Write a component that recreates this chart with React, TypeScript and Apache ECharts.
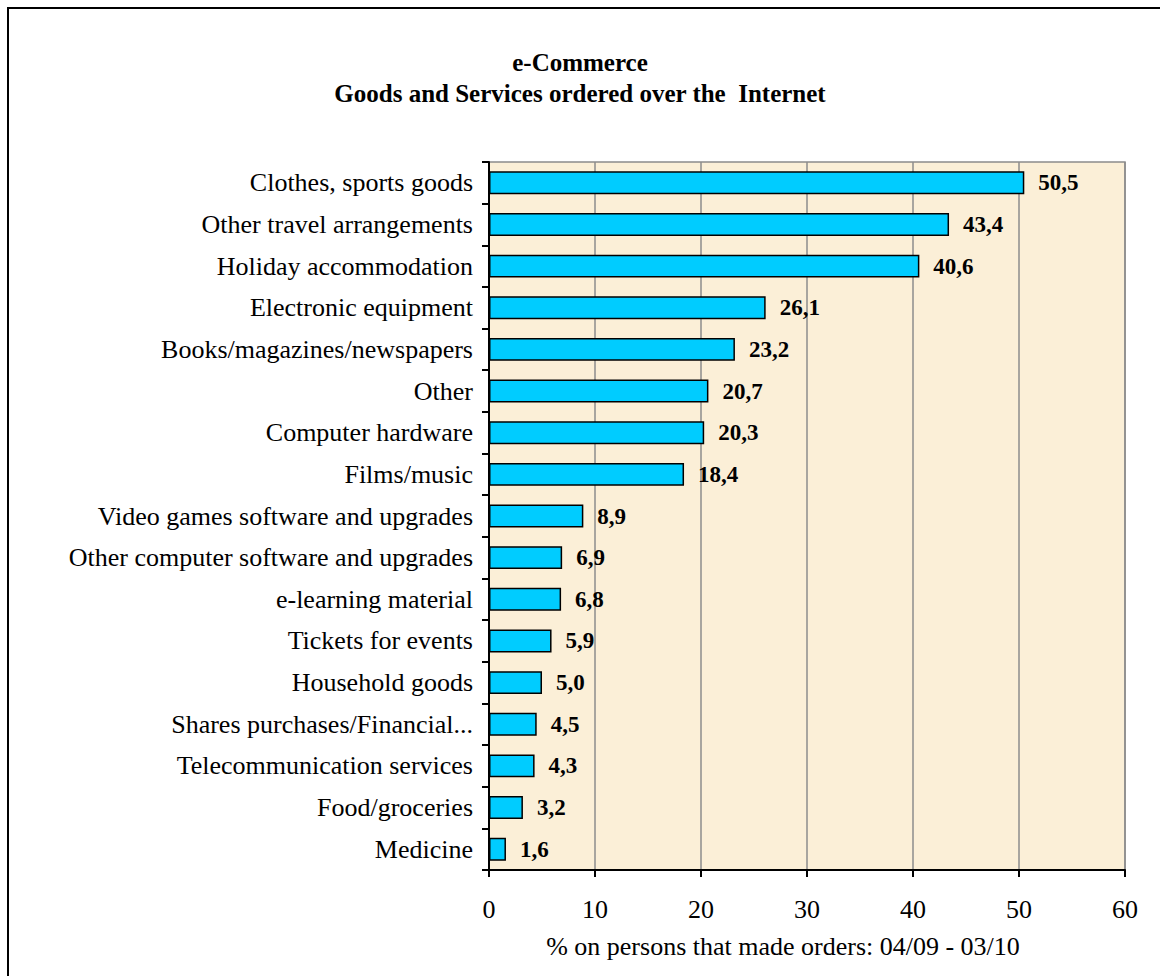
import React, { useEffect, useRef } from "react";
import * as echarts from "echarts";

const categories: string[] = [
  "Clothes, sports goods",
  "Other travel arrangements",
  "Holiday accommodation",
  "Electronic equipment",
  "Books/magazines/newspapers",
  "Other",
  "Computer hardware",
  "Films/music",
  "Video games software and upgrades",
  "Other computer software and upgrades",
  "e-learning material",
  "Tickets for events",
  "Household goods",
  "Shares purchases/Financial...",
  "Telecommunication services",
  "Food/groceries",
  "Medicine",
];

const values: number[] = [
  50.5, 43.4, 40.6, 26.1, 23.2, 20.7, 20.3, 18.4, 8.9, 6.9, 6.8, 5.9, 5.0, 4.5, 4.3, 3.2, 1.6,
];

const titleLines: string[] = ["e-Commerce", "Goods and Services ordered over the  Internet"];
const xAxisTitle = "% on persons that made orders: 04/09 - 03/10";

const FONT = '"Liberation Serif", "Times New Roman", serif';

export default function App() {
  const ref = useRef<HTMLDivElement>(null);

  useEffect(() => {
    if (!ref.current) return;
    const chart = echarts.init(ref.current, undefined, { renderer: "svg" });
    chart.setOption({
      animation: false,
      backgroundColor: "#ffffff",
      title: {
        text: titleLines.join("\n"),
        left: "center",
        top: 42,
        textStyle: {
          fontFamily: FONT,
          fontWeight: "bold",
          fontSize: 25,
          lineHeight: 31,
          color: "#000",
        },
      },
      grid: {
        left: 489,
        right: 35,
        top: 162,
        bottom: 106,
        containLabel: false,
        show: true,
        backgroundColor: "#FBEFD7",
        borderColor: "#8c8c8c",
        borderWidth: 1.5,
      },
      xAxis: {
        type: "value",
        min: 0,
        max: 60,
        interval: 10,
        axisLine: { show: true, lineStyle: { color: "#000", width: 2 } },
        axisTick: { show: true, length: 7, lineStyle: { color: "#000", width: 2 } },
        axisLabel: { fontFamily: FONT, fontSize: 26, color: "#000", margin: 26 },
        splitLine: { show: true, lineStyle: { color: "#8c8c8c", width: 1.5 } },
      },
      yAxis: {
        type: "category",
        inverse: true,
        data: categories,
        axisLine: { show: true, lineStyle: { color: "#000", width: 2 } },
        axisTick: { show: true, length: 7, lineStyle: { color: "#000", width: 2 } },
        axisLabel: { fontFamily: FONT, fontSize: 26, color: "#000", margin: 16 },
        splitLine: { show: false },
      },
      series: [
        {
          type: "bar",
          data: values,
          barCategoryGap: "45%",
          itemStyle: { color: "#00CCFF", borderColor: "#000", borderWidth: 1.5 },
          label: {
            show: true,
            position: "right",
            distance: 14,
            fontFamily: FONT,
            fontWeight: "bold",
            fontSize: 23,
            color: "#000",
            formatter: (p: any) => Number(p.value).toFixed(1).replace(".", ","),
          },
        },
      ],
      graphic: [
        {
          type: "text",
          x: 783,
          y: 946,
          style: {
            text: xAxisTitle,
            fontFamily: FONT,
            fontSize: 26,
            fill: "#000",
            align: "center",
            verticalAlign: "middle",
          },
        },
        {
          type: "rect",
          shape: { x: 8, y: 8, width: 1300, height: 1300 },
          style: { fill: "none", stroke: "#000", lineWidth: 2 },
          silent: true,
        },
      ],
    });
    return () => chart.dispose();
  }, []);

  return (
    <div
      ref={ref}
      style={{ position: "fixed", left: 0, top: 0, width: 1160, height: 976, overflow: "hidden" }}
    />
  );
}
